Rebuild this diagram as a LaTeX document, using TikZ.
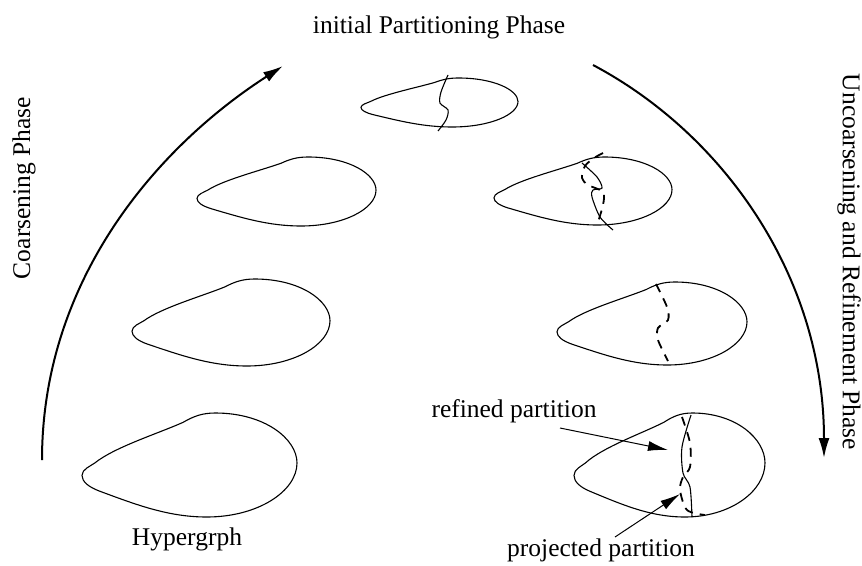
\documentclass[tikz,border=0pt]{standalone}
\usepackage{fontspec}
\setmainfont{Liberation Serif}
\usetikzlibrary{arrows.meta}

\newcommand{\blobshape}[4]{%
  \begin{scope}[shift={(#1,#2)},xscale=#3,yscale=#4]
    \draw[blobline] (0,0.6) .. controls (0,0.54) and (0.04,0.51) .. (0.06,0.48)
      .. controls (0.15,0.33) and (0.35,0.2) .. (0.47,0.09)
      .. controls (0.52,0.03) and (0.56,0) .. (0.62,0)
      .. controls (0.85,0) and (1,0.25) .. (1,0.48)
      .. controls (1,0.75) and (0.82,1) .. (0.58,1)
      .. controls (0.4,1) and (0.25,0.88) .. (0.08,0.75)
      .. controls (0.03,0.71) and (0,0.66) .. (0,0.6) -- cycle;
  \end{scope}}

\begin{document}
\begin{tikzpicture}[x=1pt,y=-1pt,font=\fontsize{25.5}{30}\selectfont,
  blobline/.style={line width=1.1pt},
  cutline/.style={line width=1.1pt},
  projline/.style={line width=1.8pt,dash pattern=on 9pt off 7pt},
  phasearrow/.style={line width=2pt,-{Latex[length=20pt,width=11pt]}},
  labelarrow/.style={line width=1pt,-{Latex[length=20pt,width=10pt]}}]
\useasboundingbox (0,0) rectangle (862,565);
\blobshape{361}{78}{157}{49}
\blobshape{197}{157}{179}{69}
\blobshape{494}{157}{178}{68}
\blobshape{132}{279}{198}{87}
\blobshape{557}{282}{190}{83}
\blobshape{82}{413}{215}{104}
\blobshape{574}{413}{191}{104}
\draw[cutline] plot[smooth] coordinates {(448,75) (441,92) (440,103) (448,110) (446,120) (438,131)};
\draw[projline] plot[smooth] coordinates {(603,153) (594,158) (585,166) (582,178) (588,185) (603,192) (603,205) (597,225)};
\draw[cutline] plot[smooth] coordinates {(582,163) (597,177) (602,188) (593,190) (592,197) (600,217) (613,230)};
\draw[projline] plot[smooth] coordinates {(656,284) (667,307) (668,320) (658,328) (658,340) (668,361)};
\draw[projline] plot[smooth] coordinates {(682,417) (690,443) (690,467) (683,477) (680,490) (687,510) (705,515)};
\draw[cutline] plot[smooth] coordinates {(691,415) (682,447) (683,473) (690,487) (692,517)};
\node (initPhase) at (439,27) {initial Partitioning Phase};
\node[rotate=90] (coarsePhase) at (24,188) {Coarsening Phase};
\node[rotate=-90] (uncoarsePhase) at (849,262) {Uncoarsening and Refinement Phase};
\node (hyper) at (187,539) {Hypergrph};
\node (refined) at (514,411) {refined partition};
\node (projected) at (601,550) {projected partition};
\coordinate (coarseStart) at (42,460);
\coordinate (coarseEnd) at (283,66);
\coordinate (uncoarseStart) at (593,65);
\coordinate (uncoarseEnd) at (824,458);
\coordinate (refTail) at (560,428);
\coordinate (refTip) at (668,450);
\coordinate (projTail) at (615,537);
\coordinate (projTip) at (680,494);
\draw[phasearrow] (coarseStart) .. controls (42,280) and (157,147) .. (coarseEnd);
\draw[phasearrow] (uncoarseStart) .. controls (725,135) and (824,278) .. (uncoarseEnd);
\draw[labelarrow] (refTail) -- (refTip);
\draw[labelarrow] (projTail) -- (projTip);
\end{tikzpicture}
\end{document}
